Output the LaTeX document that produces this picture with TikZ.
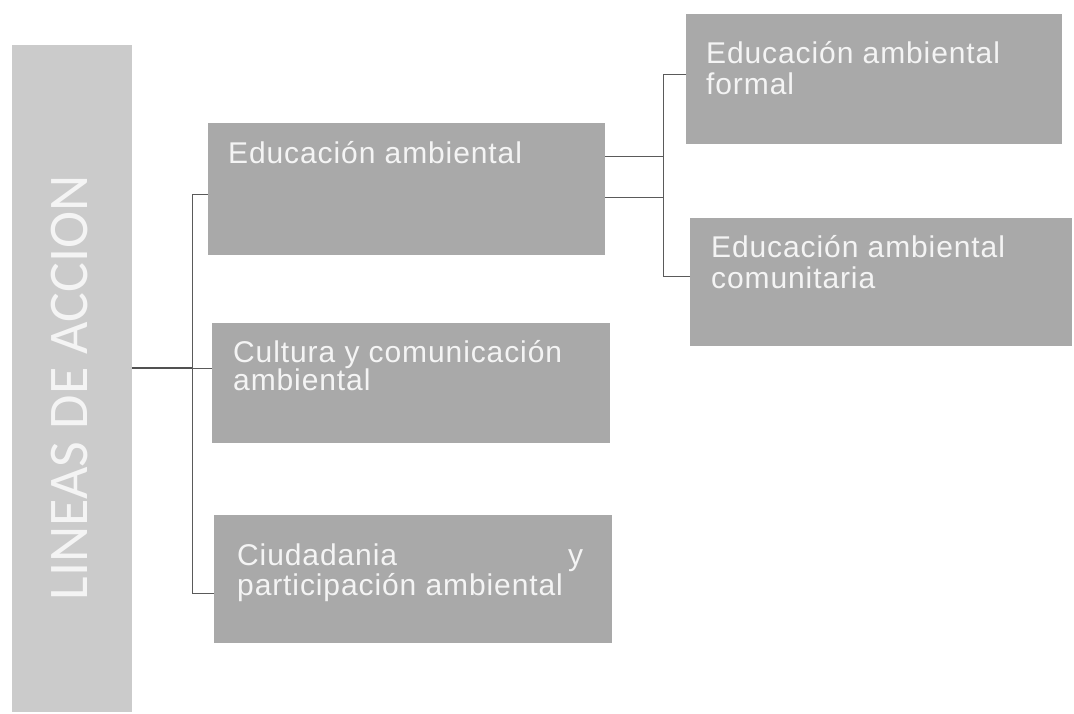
\documentclass[tikz,border=0pt]{standalone}
\usepackage{fontspec}
\setmainfont{Liberation Sans}[LetterSpace=3]
\newfontfamily\barfont{Carlito}
\definecolor{boxgray}{HTML}{A9A9A9}
\definecolor{bargray}{HTML}{CBCBCB}
\definecolor{txtwhite}{HTML}{F4F4F4}
\definecolor{linegray}{HTML}{5A5A5A}
\tikzset{
  box/.style={fill=boxgray, draw=none, inner sep=0pt, anchor=north west},
  txt/.style={text=txtwhite, inner sep=0pt, anchor=base west,
    font=\fontsize{30}{31}\selectfont},
  conn/.style={draw=linegray, line width=1pt},
}
\begin{document}
\begin{tikzpicture}[x=1pt,y=-1pt]
\useasboundingbox (0,0) rectangle (1074,713);
% left bar
\node[box, fill=bargray, minimum width=120pt, minimum height=667pt] (bar) at (12,45) {};
\node[text=txtwhite, rotate=90, inner sep=0pt, font=\barfont\fontsize{56}{60}\selectfont] (bartxt) at (70,388) {LINEAS DE ACCION};
% boxes
\node[box, minimum width=397pt, minimum height=132pt] (A) at (208,123) {};
\node[box, minimum width=376pt, minimum height=130pt] (B) at (686,14) {};
\node[box, minimum width=382pt, minimum height=128pt] (C) at (690,218) {};
\node[box, minimum width=398pt, minimum height=120pt] (D) at (212,323) {};
\node[box, minimum width=398pt, minimum height=128pt] (E) at (214,515) {};
% texts
\node[txt] (At) at (228,163) {Educación ambiental};
\node[txt] (Bt) at (706,63) {\vtop{\hbox{Educación ambiental}\hbox{formal}}};
\node[txt] (Ct) at (711,257) {\vtop{\hbox{Educación ambiental}\hbox{comunitaria}}};
\node[txt, font=\fontsize{30}{28}\selectfont] (Dt) at (233,362) {\vtop{\hbox{Cultura y comunicación}\hbox{ambiental}}};
\node[txt, font=\fontsize{30}{30}\selectfont] (Et) at (237,565) {\vtop{\hbox to 346pt{Ciudadania\hfill y}\hbox{participación ambiental}}};
% connectors left
\coordinate (busTop) at (192,194);
\coordinate (busMid) at (192,368);
\coordinate (busBot) at (192,593);
\draw[conn, line width=1.6pt, draw=linegray!90!black] (bar.east |- busMid) -- (busMid);
\draw[conn] (busMid) -- (D.west |- busMid);
\draw[conn] (A.west |- busTop) -- (busTop) -- (busBot) -- (E.west |- busBot);
% connectors right
\coordinate (rbusTop) at (663,74);
\coordinate (rbusBot) at (663,276);
\coordinate (r1) at (663,156);
\coordinate (r2) at (663,197);
\draw[conn] (A.east |- r1) -- (r1);
\draw[conn] (A.east |- r2) -- (r2);
\draw[conn] (B.west |- rbusTop) -- (rbusTop) -- (rbusBot) -- (C.west |- rbusBot);
\end{tikzpicture}
\end{document}
